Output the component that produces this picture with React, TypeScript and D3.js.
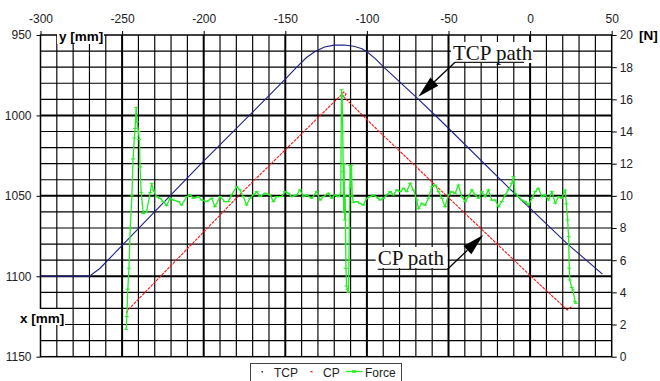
import { useEffect, useRef } from "react";
import * as d3 from "d3";

type Pt = [number, number];

// axis tick labels
const xTicks = [-300, -250, -200, -150, -100, -50, 0, 50];
const yTicks = [950, 1000, 1050, 1100, 1150];
const forceTicks = [0, 2, 4, 6, 8, 10, 12, 14, 16, 18, 20];

// TCP path: x [mm], y [mm]
const tcpPath: Pt[] = [
  [-300, 1100], [-270, 1100], [-263.5, 1095], [-202, 1030.5], [-150, 977.5],
  [-143, 970], [-137, 964], [-132, 960.4], [-126, 957.5], [-120, 956.3],
  [-114, 956.2], [-108, 957], [-103, 958.5], [-100, 960.4], [-95, 964.5],
  [-90, 969.7], [-69, 989.4], [-55, 1003], [-8, 1050], [22.5, 1079.5], [44.3, 1098.7],
];

// CP path: x [mm], y [mm]
const cpPath: Pt[] = [
  [-247.5, 1122.8], [-246, 1120.5], [-175.7, 1047], [-115.5, 987], [-114.2, 985.5],
  [-112.8, 986.8], [-114, 988.2], [-115.2, 987.4], [-92, 1010.5], [0, 1099.5],
  [22.8, 1121], [24.5, 1119.6], [26, 1118.6],
];

// contact force: x [mm], F [N]
const forceData: Pt[] = [
  [-247.5, 1.7], [-247.1, 2.5], [-246.5, 4.2], [-245.8, 5.5], [-245, 8], [-244, 10],
  [-243.3, 12.3], [-242.5, 13.6], [-242, 14.2], [-241.4, 15.5], [-240.8, 14.6],
  [-240, 14], [-239.4, 13.5], [-239, 11.8], [-238.3, 10.2], [-237, 8.9], [-235, 9.0],
  [-232.8, 10.2], [-231.9, 10.78], [-230.9, 10.37], [-228.8, 9.95], [-226.8, 9.85],
  [-224.7, 9.64], [-222.7, 9.4], [-220.6, 9.85], [-218.6, 9.74], [-215.5, 9.64],
  [-213.5, 9.43], [-210.4, 9.95], [-208.4, 10.06], [-206.3, 9.85], [-203.3, 9.95],
  [-201.2, 9.74], [-198.2, 9.64], [-195.1, 9.85], [-193.1, 9.33], [-190, 9.95],
  [-187, 9.64], [-184.9, 9.64], [-182.9, 10.06], [-179.8, 10.57], [-177.8, 10.37],
  [-175.7, 9.95], [-173.7, 9.43], [-171.6, 9.85], [-169.6, 10.06], [-167.5, 10.26],
  [-165.5, 9.95], [-162.4, 10.16], [-159.3, 10.06], [-157.3, 9.64], [-155.3, 9.95],
  [-152.2, 9.95], [-150.2, 10.26], [-148.1, 10.16], [-146.1, 9.95], [-143, 10.06],
  [-141, 10.37], [-138.9, 9.95], [-136.9, 10.06], [-133.8, 9.85], [-130.8, 10.26],
  [-128.7, 9.74], [-126.7, 9.95], [-123.6, 10.16], [-121.6, 9.85], [-119.5, 10.06],
  [-117.5, 9.95], [-116, 10.1], [-115.6, 16.6], [-115.2, 16.2], [-114.8, 14],
  [-114.5, 11.5], [-114.2, 9], [-114, 12], [-113.6, 8.5], [-113.3, 10], [-113, 7],
  [-112.8, 5.5], [-112.5, 4.4], [-112, 4.2], [-111.3, 4], [-111, 6], [-110.8, 8],
  [-110.5, 10], [-110.3, 11.9], [-110, 10.5], [-109.5, 11.9], [-109, 10], [-108.3, 9.6],
  [-106.2, 9.64], [-104.2, 9.54], [-102.1, 9.43], [-100.1, 9.85], [-98.1, 9.95],
  [-96, 10.06], [-93, 9.85], [-91.9, 9.74], [-89.9, 9.85], [-87.8, 10.06], [-85.8, 10.26],
  [-83.7, 10.06], [-81.7, 10.37], [-79.6, 10.26], [-77.6, 10.47], [-75.6, 10.26],
  [-73.5, 10.78], [-71.5, 10.37], [-69.4, 9.74], [-68.4, 9.2], [-66.4, 9.54],
  [-64.3, 9.43], [-62.3, 9.85], [-60.2, 10.57], [-58.2, 10.67], [-56.1, 10.26],
  [-54.1, 9.85], [-52.1, 9.33], [-50, 10.06], [-48, 10.26], [-45.9, 10.16],
  [-43.9, 10.67], [-41.8, 9.95], [-39.8, 9.64], [-37.8, 9.95], [-35.7, 10.37],
  [-33.7, 10.06], [-31.6, 9.85], [-29.6, 10.26], [-27.5, 9.95], [-25.5, 10.37],
  [-23.5, 9.74], [-21.4, 9.74], [-19.4, 9.33], [-17.3, 9.64], [-15.3, 10.06],
  [-13.2, 10.37], [-11.2, 10.78], [-10.2, 11.2], [-9.2, 10.16], [-7.1, 9.95],
  [-5.1, 9.74], [-3, 9.64], [-1, 9.43], [1.1, 9.85], [3.1, 10.26], [5.1, 10.47],
  [7.2, 9.95], [9.2, 10.06], [11.3, 9.74], [13.3, 10.26], [15.4, 9.54], [17.4, 9.95],
  [19.4, 9.85], [21.5, 10.37], [22.2, 9.5], [23, 8.5], [23.6, 7.46], [24, 5.5],
  [24.3, 4.77], [25.5, 4.3], [26.2, 4.15], [27.6, 3.42], [28.1, 3.32],
];

export default function App() {
  const svgRef = useRef<SVGSVGElement>(null);

  useEffect(() => {
    if (!svgRef.current) return;
    const svg = d3.select(svgRef.current);
    svg.selectAll("*").remove();

    const left = 40.5, right = 611.7, top = 35, bottom = 356.7;
    const x = d3.scaleLinear().domain([-300, 50]).range([left, right]);
    const y = d3.scaleLinear().domain([950, 1150]).range([top, bottom]);
    const yN = d3.scaleLinear().domain([0, 20]).range([bottom, top]);
    const plain = (d: d3.NumberValue) => String(d);

    svg.append("rect").attr("width", 660).attr("height", 381).attr("fill", "#fff");

    // Grid (every 10 mm, heavier every 50 mm)
    const grid = svg.append("g");
    d3.range(-290, 50, 10).forEach((v) => {
      grid.append("line")
        .attr("x1", x(v)).attr("x2", x(v)).attr("y1", top).attr("y2", bottom)
        .attr("stroke", "#000").attr("stroke-width", v % 50 === 0 ? 2 : 1.15);
    });
    d3.range(960, 1150, 10).forEach((v) => {
      grid.append("line")
        .attr("x1", left).attr("x2", right).attr("y1", y(v)).attr("y2", y(v))
        .attr("stroke", "#000").attr("stroke-width", v % 50 === 0 ? 2 : 1.15);
    });
    svg.append("rect")
      .attr("x", left).attr("y", top)
      .attr("width", right - left).attr("height", bottom - top)
      .attr("fill", "none").attr("stroke", "#000").attr("stroke-width", 1.5);

    // Axes
    const styleAxis = (g: d3.Selection<SVGGElement, unknown, null, undefined>) => {
      g.select(".domain").remove();
      g.selectAll("line").attr("stroke", "#000");
      g.selectAll("text")
        .attr("fill", "#222")
        .style("font-family", "'Liberation Sans', Arial, sans-serif")
        .style("font-size", "12px");
    };
    svg.append("g")
      .attr("transform", `translate(0,${top})`)
      .call(d3.axisTop(x).tickValues(xTicks).tickFormat(plain).tickSize(4).tickPadding(8))
      .call(styleAxis);
    svg.append("g")
      .attr("transform", `translate(${left},0)`)
      .call(d3.axisLeft(y).tickValues(yTicks).tickFormat(plain).tickSize(4).tickPadding(5))
      .call(styleAxis);
    svg.append("g")
      .attr("transform", `translate(${right},0)`)
      .call(d3.axisRight(yN).tickValues(forceTicks).tickFormat(plain).tickSize(5).tickPadding(3))
      .call(styleAxis);

    // Series
    const pathLine = d3.line<Pt>().x((d) => x(d[0])).y((d) => y(d[1]));
    const forceLine = d3.line<Pt>().x((d) => x(d[0])).y((d) => yN(d[1]));

    svg.append("path").datum(tcpPath)
      .attr("d", pathLine).attr("fill", "none")
      .attr("stroke", "#1f1f8f").attr("stroke-width", 1.1);

    svg.append("path").datum(cpPath)
      .attr("d", pathLine).attr("fill", "none")
      .attr("stroke", "#ff1010").attr("stroke-width", 1.1)
      .attr("stroke-dasharray", "3,1");

    svg.append("path").datum(forceData)
      .attr("d", forceLine).attr("fill", "none")
      .attr("stroke", "#22ee22").attr("stroke-width", 1.3);

    svg.append("g").selectAll("line")
      .data(forceData).enter().append("line")
      .attr("x1", (d) => x(d[0]) - 2).attr("x2", (d) => x(d[0]) + 2)
      .attr("y1", (d) => yN(d[1])).attr("y2", (d) => yN(d[1]))
      .attr("stroke", "#22ee22").attr("stroke-width", 1);

    // Axis titles with white boxes
    const bold = (t: string, tx: number, ty: number) =>
      svg.append("text").attr("x", tx).attr("y", ty).text(t)
        .attr("fill", "#000").style("font-weight", "bold")
        .style("font-family", "'Liberation Sans', Arial, sans-serif")
        .style("font-size", "13.5px");
    svg.append("rect").attr("x", 57).attr("y", 29).attr("width", 47).attr("height", 15).attr("fill", "#fff");
    bold("y [mm]", 59, 40.5);
    svg.append("rect").attr("x", 18).attr("y", 309).attr("width", 47).attr("height", 16).attr("fill", "#fff");
    bold("x [mm]", 20, 322.5);
    bold("[N]", 639, 40);

    // Callouts
    const callout = (
      label: string, tx: number, ty: number, boxW: number,
      lx1: number, lx2: number, ly: number, tip: [number, number],
    ) => {
      svg.append("rect").attr("x", tx - 2).attr("y", ty - 18).attr("width", boxW).attr("height", 21).attr("fill", "#fff");
      svg.append("text").attr("x", tx).attr("y", ty).text(label)
        .attr("fill", "#111")
        .style("font-family", "'Liberation Serif', 'Times New Roman', serif")
        .style("font-size", "21px");
      svg.append("line").attr("x1", lx1).attr("x2", lx2).attr("y1", ly).attr("y2", ly)
        .attr("stroke", "#222").attr("stroke-width", 1.3);
      const [tX, tY] = tip;
      const dx = tX - lx2, dy = tY - ly;
      const len = Math.hypot(dx, dy);
      const ux = dx / len, uy = dy / len;
      const bx = tX - 22 * ux, by = tY - 22 * uy;
      svg.append("line").attr("x1", lx2).attr("y1", ly).attr("x2", bx).attr("y2", by)
        .attr("stroke", "#000").attr("stroke-width", 1.3);
      svg.append("polygon")
        .attr("points", [
          [tX, tY],
          [bx - 5.7 * uy, by + 5.7 * ux],
          [bx + 5.7 * uy, by - 5.7 * ux],
        ].map((p) => p.join(",")).join(" "))
        .attr("fill", "#000");
    };
    callout("TCP path", 453, 60, 82, 524, 455, 62.3, [x(-68.5), y(988.4)]);
    callout("CP path", 377.7, 265, 72, 377.7, 447.5, 269.3, [x(-28.7), y(1074.3)]);

    // Legend
    const lg = svg.append("g");
    lg.append("rect").attr("x", 250.5).attr("y", 363.5).attr("width", 151).attr("height", 30)
      .attr("fill", "#fff").attr("stroke", "#444").attr("stroke-width", 1);
    const legendText = (t: string, lx: number) =>
      lg.append("text").attr("x", lx).attr("y", 376.5).text(t).attr("fill", "#222")
        .style("font-family", "'Liberation Sans', Arial, sans-serif").style("font-size", "12px");
    lg.append("rect").attr("x", 261.5).attr("y", 371).attr("width", 1.5).attr("height", 1.5).attr("fill", "#1f1f8f");
    legendText("TCP", 274);
    lg.append("rect").attr("x", 310.5).attr("y", 371).attr("width", 2).attr("height", 1.3).attr("fill", "#ff1010");
    legendText("CP", 323);
    lg.append("line").attr("x1", 346).attr("x2", 362.5).attr("y1", 371.5).attr("y2", 371.5)
      .attr("stroke", "#22ee22").attr("stroke-width", 1.3);
    lg.append("line").attr("x1", 352).attr("x2", 356).attr("y1", 371.5).attr("y2", 371.5)
      .attr("stroke", "#22ee22").attr("stroke-width", 2.5);
    legendText("Force", 365);
  }, []);

  return (
    <svg
      ref={svgRef}
      width={660}
      height={381}
      style={{ position: "absolute", left: 0, top: 0 }}
    />
  );
}
